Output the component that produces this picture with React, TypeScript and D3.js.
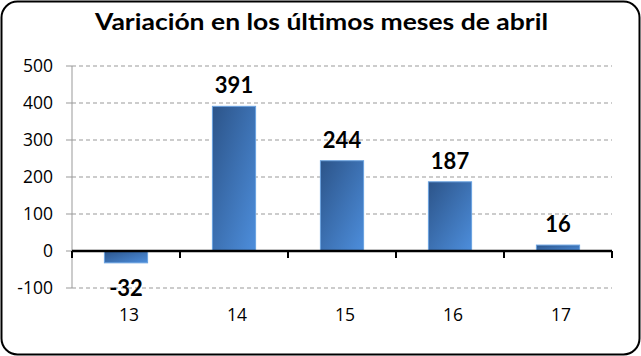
import React from "react";
import * as d3 from "d3";

const categories = ["13", "14", "15", "16", "17"];
const values = [-32, 391, 244, 187, 16];
const yTicks = [-100, 0, 100, 200, 300, 400, 500];
const title = "Variación en los últimos meses de abril";

export default function App() {
  const W = 641, H = 356;
  const left = 72, right = 612, top = 66, bottom = 288;
  const x = d3.scaleBand<string>().domain(categories).range([left, right]).paddingInner(0.6).paddingOuter(0.3);
  const xb = d3.scaleBand<string>().domain(categories).range([left, right]);
  const y = d3.scaleLinear().domain([-100, 500]).range([bottom, top]);
  const y0 = y(0);
  const tickFont = "'Open Sans', 'Liberation Sans', sans-serif";
  return (
    <svg width={W} height={H} style={{ position: "absolute", left: 0, top: 0 }} fontFamily="Lato, 'Open Sans', sans-serif">
      <defs>
        <linearGradient id="barg" x1="0" y1="0" x2="1" y2="1">
          <stop offset="0" stopColor="#2C5489" />
          <stop offset="1" stopColor="#4D8EDC" />
        </linearGradient>
      </defs>
      <rect x={1.5} y={1.5} width={W - 3} height={H - 3} rx={16} fill="#fff" stroke="#000" strokeWidth={2} />
      <text x={95} y={30} textLength={453} lengthAdjust="spacingAndGlyphs" fontSize={23} fontWeight="bold" fill="#000">{title}</text>
      {yTicks.map((t) => (
        <g key={t}>
          {t !== 0 && (
            <line x1={left} x2={right} y1={y(t)} y2={y(t)} stroke="#999" strokeDasharray="4,3" strokeWidth={1} />
          )}
          <line x1={left - 6} x2={left} y1={y(t)} y2={y(t)} stroke="#999" />
          <text x={53} y={y(t) + 6} textAnchor="end" fontSize={17.5} fontFamily={tickFont} fill="#000">{t}</text>
        </g>
      ))}
      <line x1={left} x2={left} y1={top} y2={bottom} stroke="#999" />
      {categories.map((c, i) => {
        const v = values[i];
        const bx = x(c)!;
        const bw = x.bandwidth();
        const yy = Math.min(y(v), y0);
        const h = Math.abs(y(v) - y0);
        const cx = bx + bw / 2;
        return (
          <g key={c}>
            <rect x={bx} y={yy} width={bw} height={h} fill="url(#barg)" stroke="#6AA2E0" strokeWidth={1} />
            <text x={cx} y={v >= 0 ? y(v) - 13 : y(v) + 33} textAnchor="middle" fontSize={22} fontWeight="bold" fill="#000">{v}</text>
            <text x={cx + 3} y={321} textAnchor="middle" fontSize={17.5} fontFamily={tickFont} fill="#000">{c}</text>
          </g>
        );
      })}
      <line x1={left} x2={right} y1={y0} y2={y0} stroke="#000" strokeWidth={2.5} />
      {categories.map((c) => (
        <line key={"t" + c} x1={xb(c)!} x2={xb(c)!} y1={y0} y2={y0 + 7} stroke="#000" strokeWidth={2} />
      ))}
      <line x1={right} x2={right} y1={y0} y2={y0 + 7} stroke="#000" strokeWidth={2} />
    </svg>
  );
}
